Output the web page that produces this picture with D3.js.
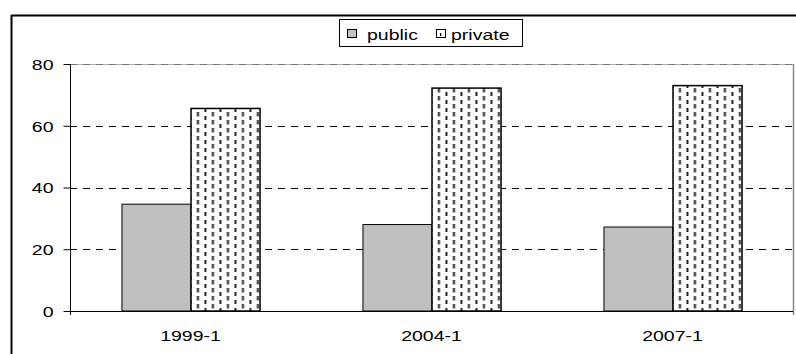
<!DOCTYPE html>
<html>
<head>
<meta charset="utf-8">
<script src="https://cdn.jsdelivr.net/npm/d3@7"></script>
<style>
  html, body { margin: 0; padding: 0; background: #fff; }
  svg { display: block; }
  text { font-family: Arial, "Liberation Sans", sans-serif; fill: #000; }
</style>
</head>
<body>
<svg id="chart" width="796" height="354"></svg>
<script>
// Share of enrolment by sector, per survey period
const categories = ["1999-1", "2004-1", "2007-1"];
const seriesNames = ["public", "private"];
const publicValues = [34.6, 28.0, 27.2];
const privateValues = [65.6, 72.2, 73.0];
const yTicks = [0, 20, 40, 60, 80];

const W = 796, H = 354;
const plot = { left: 70, right: 793, top: 64, bottom: 311 };
const fontSize = 15;
const stretch = 1.3;

const svg = d3.select("#chart");

// Vertical dashed fill for the private series
const defs = svg.append("defs");
const pat = defs.append("pattern")
  .attr("id", "dashv")
  .attr("patternUnits", "userSpaceOnUse")
  .attr("width", 15).attr("height", 8);
pat.append("rect").attr("width", 15).attr("height", 8).attr("fill", "#fff");
pat.append("rect").attr("x", 0.5).attr("y", 0).attr("width", 2).attr("height", 4.5).attr("fill", "#222");
pat.append("rect").attr("x", 8).attr("y", 4).attr("width", 2).attr("height", 4.5).attr("fill", "#222");

// Outer frame (top and left edges)
svg.append("line").attr("x1", 11).attr("x2", W).attr("y1", 15.5).attr("y2", 15.5)
  .attr("stroke", "#000").attr("stroke-width", 2);
svg.append("line").attr("x1", 11.5).attr("x2", 11.5).attr("y1", 15).attr("y2", H)
  .attr("stroke", "#000").attr("stroke-width", 2);

// Scales
const x0 = d3.scaleBand().domain(categories).range([plot.left, plot.right])
  .paddingInner(0.427).paddingOuter(0.2135);
const x1 = d3.scaleBand().domain(seriesNames).range([0, x0.bandwidth()]);
const y = d3.scaleLinear().domain([0, 80]).range([plot.bottom, plot.top]);

// Plot area border (top and right, grey)
svg.append("line").attr("x1", plot.left).attr("x2", plot.right)
  .attr("y1", y(80) + 0.5).attr("y2", y(80) + 0.5).attr("stroke", "#b0b0b0");
svg.append("line").attr("x1", plot.right + 0.5).attr("x2", plot.right + 0.5)
  .attr("y1", y(80)).attr("y2", plot.bottom + 4).attr("stroke", "#888").attr("stroke-width", 1.5);

// Horizontal dashed gridlines
svg.append("g").selectAll("line")
  .data(yTicks.filter(d => d > 0))
  .join("line")
  .attr("x1", plot.left).attr("x2", plot.right)
  .attr("y1", d => Math.round(y(d)) + 0.5).attr("y2", d => Math.round(y(d)) + 0.5)
  .attr("stroke", d => d === 80 ? "#777" : "#000")
  .attr("stroke-dasharray", "7,6");

// Bars
const data = categories.map((c, i) => ({ cat: c, public: publicValues[i], private: privateValues[i] }));
const groups = svg.append("g").selectAll("g")
  .data(data).join("g")
  .attr("transform", d => `translate(${x0(d.cat)},0)`);

groups.append("rect")
  .attr("x", x1("public") + 0.5)
  .attr("y", d => y(d.public))
  .attr("width", x1.bandwidth())
  .attr("height", d => y(0) - y(d.public))
  .attr("fill", "#c0c0c0").attr("stroke", "#000").attr("stroke-width", 1);

groups.append("rect")
  .attr("x", x1("private") + 0.5)
  .attr("y", d => y(d.private))
  .attr("width", x1.bandwidth())
  .attr("height", d => y(0) - y(d.private))
  .attr("fill", "url(#dashv)").attr("stroke", "#000").attr("stroke-width", 1.5);

// Y axis
const yAxis = svg.append("g")
  .attr("transform", `translate(${plot.left + 0.5},0)`)
  .call(d3.axisLeft(y).tickValues(yTicks).tickSize(7).tickSizeOuter(0));
yAxis.select(".domain").attr("d", `M0,${y(80)}V${plot.bottom + 4}`).attr("stroke", "#000");
yAxis.selectAll(".tick line").attr("stroke", "#000");
yAxis.selectAll(".tick text")
  .attr("x", 0).attr("dy", "0.35em")
  .attr("transform", `translate(-17,0) scale(${stretch},1)`)
  .style("font-size", fontSize + "px")
  .style("font-family", "Arial, 'Liberation Sans', sans-serif")
  .attr("fill", "#000");

// X axis
const xAxis = svg.append("g")
  .attr("transform", `translate(0,${plot.bottom + 0.5})`)
  .call(d3.axisBottom(x0).tickSize(0).tickSizeOuter(0));
xAxis.select(".domain").attr("d", `M${plot.left},0H${plot.right}`).attr("stroke", "#000");
xAxis.selectAll(".tick text")
  .attr("y", 0).attr("dy", 0)
  .attr("transform", `translate(0,29) scale(${stretch},1)`)
  .style("font-size", fontSize + "px")
  .style("font-family", "Arial, 'Liberation Sans', sans-serif")
  .attr("fill", "#000");

// Legend
const legend = svg.append("g");
legend.append("rect").attr("x", 339.5).attr("y", 19.5).attr("width", 183).attr("height", 27)
  .attr("fill", "#fff").attr("stroke", "#000");
const legendItems = [
  { name: seriesNames[0], sx: 347, tx: 367, fill: "#c0c0c0" },
  { name: seriesNames[1], sx: 436, tx: 451, fill: "#fff" }
];
legendItems.forEach(it => {
  legend.append("rect").attr("x", it.sx + 0.5).attr("y", 29.5).attr("width", 9).attr("height", 8)
    .attr("fill", it.fill).attr("stroke", "#000");
  legend.append("text")
    .attr("transform", `translate(${it.tx},40) scale(${stretch},1)`)
    .style("font-size", fontSize + "px")
    .text(it.name);
});
// small dash mark inside the private swatch
legend.append("rect").attr("x", 440).attr("y", 33).attr("width", 1.2).attr("height", 3).attr("fill", "#000");
</script>
</body>
</html>
